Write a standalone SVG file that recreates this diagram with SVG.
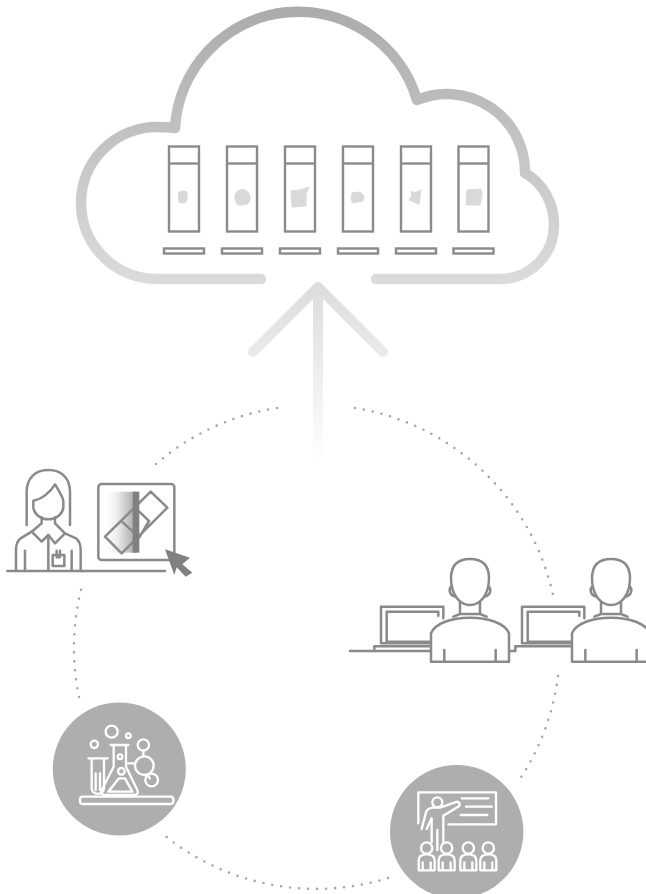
<svg xmlns="http://www.w3.org/2000/svg" xmlns:xlink="http://www.w3.org/1999/xlink" width="646" height="894" viewBox="0 0 646 894">
<style>
.ln{fill:none;stroke:#8a8a8a;stroke-width:7.500;stroke-linecap:round;stroke-linejoin:round}
.fl{fill:#fff;stroke:#8a8a8a;stroke-width:7.500;stroke-linejoin:round;stroke-linecap:round}
.wh{fill:none;stroke:#fff;stroke-width:7;stroke-linecap:round;stroke-linejoin:round}
.slide{fill:none;stroke:#8a8a8a;stroke-width:2.400}
.blob{fill:#d9d9d9;stroke:#d9d9d9;stroke-width:1;stroke-linejoin:round}
.dots{fill:none;stroke:#a8a8a8;stroke-width:2.600;stroke-linecap:round;stroke-dasharray:0 9}
.disc{fill:#aeaeae}
</style>
<defs>
<linearGradient id="cloudG" gradientUnits="userSpaceOnUse" x1="0" y1="5" x2="0" y2="285"><stop offset="0" stop-color="#ababab"/><stop offset="1" stop-color="#dcdcdc"/></linearGradient>
<linearGradient id="arrowG" gradientUnits="userSpaceOnUse" x1="0" y1="283" x2="0" y2="462"><stop offset="0" stop-color="#dcdcdc"/><stop offset="1" stop-color="#ffffff"/></linearGradient>
<linearGradient id="scanG" x1="0" y1="0" x2="1" y2="0"><stop offset="0" stop-color="#fff"/><stop offset=".35" stop-color="#efefef"/><stop offset="1" stop-color="#a5a5a5"/></linearGradient>
<g id="slideShape">
<rect class="slide" x="169" y="146.500" width="30" height="85"/>
<path class="slide" d="M169,163.500H199"/>
<rect class="slide" x="164" y="248.500" width="40" height="5"/>
</g>
<g id="worker">
<path class="fl" d="M318,100C318,60 340,42 375,42C410,42 432,60 432,100C432,150 405,180 375,180C345,180 318,150 318,100Z"/>
<path class="ln" d="M320,125C310,130 312,150 330,155M430,125C440,130 438,150 420,155M345,172V205M405,172V205M325,215L345,207H405L425,215"/>
<path class="ln" d="M108,295V185H295V220M125,290V200H280V212M125,290H258M108,295H258M88,318V304H258"/>
<path class="fl" d="M258,350V265C270,235 320,218 375,218C430,218 480,235 492,265V350Z"/>
<path class="ln" d="M298,315V350M452,315V350"/>
</g>
<g id="pupil">
<circle class="wh" cx="0" cy="279" r="17"/>
<path class="wh" d="M-24,346V316C-24,304 -14,298 0,298C14,298 24,304 24,316V346ZM-12,322V346M12,322V346"/>
</g>
</defs>
<g id="connectors">
<path d="M318,287V460" fill="none" stroke="url(#arrowG)" stroke-width="10"/>
<path d="M253,352L318,287L383,352" fill="none" stroke="url(#arrowG)" stroke-width="10" stroke-linecap="round" stroke-linejoin="round"/>
<path class="dots" d="M355,408A242,242 0 0 1 553,595"/>
<path class="dots" d="M558,676A242,242 0 0 1 518,782"/>
<path class="dots" d="M388,878A242,242 0 0 1 164,835"/>
<path class="dots" d="M79,697A242,242 0 0 1 82,586"/>
<path class="dots" d="M156,464A242,242 0 0 1 277,408"/>
</g>
<g id="cloud">
<path d="M261,279H157A76,76 0 0 1 157,127Q167,127 175,128A123.700,123.700 0 0 1 417,100A78,78 0 0 1 525,173C543,183 554,203 554,225C554,255 530,279 500,279H376" fill="none" stroke="url(#cloudG)" stroke-width="10.500" stroke-linecap="round" stroke-linejoin="round"/>
<use xlink:href="#slideShape" href="#slideShape"/>
<use xlink:href="#slideShape" href="#slideShape" x="58"/>
<use xlink:href="#slideShape" href="#slideShape" x="116"/>
<use xlink:href="#slideShape" href="#slideShape" x="174"/>
<use xlink:href="#slideShape" href="#slideShape" x="232"/>
<use xlink:href="#slideShape" href="#slideShape" x="289.500"/>
<path class="blob" d="M179,192Q183,190 187,192Q188,198 186,202Q182,204 179,202Q178,196 179,192Z"/>
<path class="blob" d="M240,190C246,188 250,193 250,199C250,204 245,205 240,205C236,205 235,201 235,197C235,193 237,191 240,190Z"/>
<path class="blob" d="M291,191L300,190L309,187L306,194L306,206L292,207Z"/>
<path class="blob" d="M352,193L360,192L364,196L363,201L353,203L351,199Z"/>
<path class="blob" d="M411,191L414,193L421,190L419,204L409,200L412,196Z"/>
<path class="blob" d="M467,190L481,189L482,195L480,205H466Z"/>
</g>
<g id="scientist" transform="translate(0,460) scale(.33333)">
<path class="ln" d="M22,333H495"/>
<path class="ln" d="M80,195V95C80,55 105,30 145,30C185,30 210,55 210,95V195"/>
<path class="ln" d="M100,122C125,118 150,98 165,73C175,90 186,105 190,122V140C190,160 170,178 145,178C120,178 100,160 100,140Z"/>
<path class="ln" d="M125,172V190L95,215L125,245L145,225L165,250L195,220L165,190V172"/>
<path class="ln" d="M95,215L62,235C52,243 48,255 48,270V333M195,220L228,235C238,243 242,255 242,270V333M75,272V333M215,272V333M145,225V333"/>
<path class="ln" d="M158,285H193V318H158ZM170,272V292H180V272"/>
<rect class="ln" x="295" y="72" width="228" height="228" rx="10"/>
<rect x="318" y="95" width="90" height="183" fill="url(#scanG)"/>
<path class="ln" d="M315,230L452,95L502,143L365,280ZM368,187L418,232L447,183L418,155"/>
<rect x="398" y="95" width="20" height="183" fill="#808080"/>
<path fill="#808080" d="M495,268L570,293L547,313L577,338L557,350L530,322L523,345Z"/>
</g>
<g id="reviewers" transform="translate(345,545) scale(.33333)">
<path class="ln" d="M15,318H258M492,318H510"/>
<use xlink:href="#worker" href="#worker"/>
<use xlink:href="#worker" href="#worker" x="423"/>
</g>
<g id="lab">
<circle class="disc" cx="119.300" cy="769" r="66.500"/>
<g transform="translate(45,695) scale(.33333)">
<rect class="wh" x="105" y="305" width="280" height="22" rx="8"/>
<path class="wh" d="M130,190H188M140,190V280C140,302 177,302 177,280V190M152,235V285M165,235V285"/>
<path class="wh" d="M197,150H250M206,150V215L170,285Q165,300 180,300H265Q282,300 277,285L243,215V150M190,290L222,250H240L262,290Z"/>
<circle class="wh" cx="200" cy="110" r="18"/>
<circle class="wh" cx="148" cy="148" r="11"/>
<circle class="wh" cx="250" cy="122" r="7"/>
<circle class="wh" cx="225" cy="185" r="7"/>
<circle class="wh" cx="229" cy="229" r="10"/>
<circle class="wh" cx="295" cy="150" r="17"/>
<circle class="wh" cx="298" cy="212" r="28"/>
<circle class="wh" cx="320" cy="255" r="19"/>
<path class="wh" d="M295,167V184M245,205H270M308,238L314,250"/>
</g>
</g>
<g id="teaching">
<circle class="disc" cx="456.700" cy="831.700" r="66.700"/>
<g transform="translate(380,755) scale(.33333)">
<path class="wh" d="M205,208H348V112H115V205M245,130H325M258,155H335M242,180H322"/>
<circle class="wh" cx="172" cy="142" r="15"/>
<path class="wh" d="M125,222L138,172Q142,160 158,158H180L232,140Q242,145 238,153L190,182V262M140,222L155,190V262M172,225V285"/>
<use xlink:href="#pupil" href="#pupil" x="140"/>
<use xlink:href="#pupil" href="#pupil" x="200"/>
<use xlink:href="#pupil" href="#pupil" x="265"/>
<use xlink:href="#pupil" href="#pupil" x="325"/>
</g>
</g>
</svg>
